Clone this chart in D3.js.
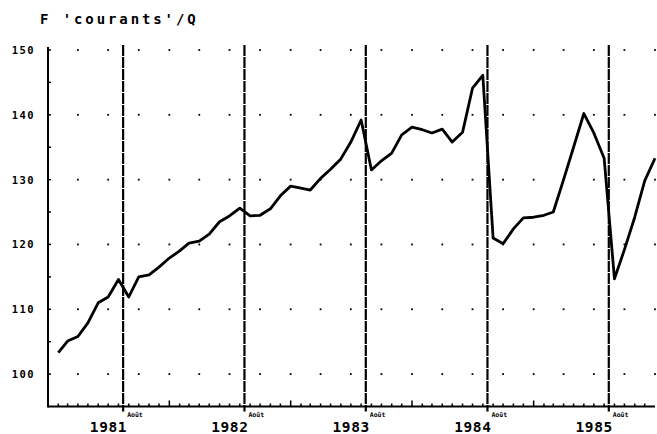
<!DOCTYPE html>
<meta charset="utf-8">
<style>
body { margin: 0; background: #fff; }
svg text { font-family: "DejaVu Sans Mono", monospace; font-weight: bold; fill: #000; }
</style>
<svg width="657" height="434"></svg>
<script src="https://d3js.org/d3.v7.min.js"></script>
<script>

// monthly values, first one is February 1981, last one January 1986
var firstMonth = "1981-02";
var values = [
  103.3, 105.1, 105.8, 107.9, 111.0, 111.9, 114.6, 111.9, 115.0, 115.3, 116.5,
  117.9, 119.0, 120.2, 120.5, 121.6, 123.5, 124.4, 125.6, 124.4, 124.5, 125.5, 127.5,
  129.0, 128.7, 128.4, 130.2, 131.6, 133.2, 135.8, 139.2, 131.5, 132.9, 134.1, 136.9,
  138.1, 137.7, 137.2, 137.8, 135.8, 137.3, 144.1, 146.1, 121.0, 120.1, 122.4, 124.1,
  124.2, 124.5, 125.0, 130.0, 135.0, 140.2, 137.2, 133.3, 114.7, 119.2, 124.2, 129.8,
  133.3
];
var years = [1981, 1982, 1983, 1984, 1985];
var yTicks = [100, 110, 120, 130, 140, 150];
var markLabel = "Août";
var title = "F 'courants'/Q";

var svg = d3.select("svg");
var parseMonth = d3.timeParse("%Y-%m");
var start = parseMonth(firstMonth);
var data = values.map(function(v, i) {
  return { date: d3.timeMonth.offset(start, i), value: v };
});

var x = d3.scaleTime()
    .domain([new Date(1981, 0, 1), new Date(1986, 0, 1)])
    .range([48, 655]);

var y = d3.scaleLinear()
    .domain([95, 150])
    .range([406.5, 50]);

// title
svg.append("text")
    .attr("x", 40)
    .attr("y", 24)
    .attr("font-size", 14)
    .attr("letter-spacing", "2.9px")
    .text(title);

// dotted grid, one dot per quarter and per 10 units
var quarters = d3.timeMonth.every(3).range(new Date(1981, 3, 1), new Date(1986, 0, 2));
var dots = [];
yTicks.forEach(function(v) {
  quarters.forEach(function(q) { dots.push({ date: q, value: v }); });
});
svg.append("g")
  .selectAll("rect")
  .data(dots)
  .enter().append("rect")
    .attr("x", function(d) { return x(d.date) - 0.9; })
    .attr("y", function(d) { return y(d.value) - 0.9; })
    .attr("width", 1.8)
    .attr("height", 1.8)
    .attr("fill", "#000");

// bottom axis: month ticks, taller ones in January
var months = d3.timeMonth.range(new Date(1981, 1, 1), new Date(1986, 0, 1));
var bottom = svg.append("g");
bottom.append("line")
    .attr("x1", x.range()[0]).attr("x2", x.range()[1])
    .attr("y1", y(95)).attr("y2", y(95))
    .attr("stroke", "#000").attr("stroke-width", 2);
bottom.selectAll("line.tick")
  .data(months)
  .enter().append("line")
    .attr("class", "tick")
    .attr("x1", function(d) { return x(d); })
    .attr("x2", function(d) { return x(d); })
    .attr("y1", y(95))
    .attr("y2", function(d) { return y(95) - (d.getMonth() === 0 ? 6 : 3); })
    .attr("stroke", "#000")
    .attr("stroke-width", 1.5);

// left axis
var left = svg.append("g");
left.append("line")
    .attr("x1", x.range()[0]).attr("x2", x.range()[0])
    .attr("y1", 47).attr("y2", y(95) + 1)
    .attr("stroke", "#000").attr("stroke-width", 2);
left.selectAll("line.tick")
  .data(d3.range(100, 151, 5))
  .enter().append("line")
    .attr("class", "tick")
    .attr("x1", x.range()[0])
    .attr("x2", x.range()[0] + 3)
    .attr("y1", function(d) { return y(d); })
    .attr("y2", function(d) { return y(d); })
    .attr("stroke", "#000")
    .attr("stroke-width", 1.5);
left.selectAll("text")
  .data(yTicks)
  .enter().append("text")
    .attr("x", 35)
    .attr("y", function(d) { return y(d) + 4; })
    .attr("text-anchor", "end")
    .attr("font-size", 10.5)
    .attr("letter-spacing", "1.4px")
    .text(function(d) { return d; });

// august markers
var marks = svg.append("g")
  .selectAll("g")
  .data(years)
  .enter().append("g");
marks.append("line")
    .attr("x1", function(d) { return x(new Date(d, 7, 15)); })
    .attr("x2", function(d) { return x(new Date(d, 7, 15)); })
    .attr("y1", 45)
    .attr("y2", y(95) + 5)
    .attr("stroke", "#000")
    .attr("stroke-width", 2.2)
    .attr("stroke-dasharray", "11,1");
marks.append("text")
    .attr("x", function(d) { return x(new Date(d, 7, 15)) + 4; })
    .attr("y", 417)
    .attr("font-size", 6.5)
    .text(markLabel);
marks.append("text")
    .attr("x", function(d) { return x(new Date(d, 6, 2)); })
    .attr("y", 432)
    .attr("text-anchor", "middle")
    .attr("font-size", 14.5)
    .attr("letter-spacing", "0.6px")
    .text(function(d) { return d; });

// the series
var line = d3.line()
    .x(function(d) { return x(d.date); })
    .y(function(d) { return y(d.value); });

svg.append("path")
    .datum(data)
    .attr("fill", "none")
    .attr("stroke", "#000")
    .attr("stroke-width", 2.8)
    .attr("stroke-linejoin", "round")
    .attr("d", line);

</script>
